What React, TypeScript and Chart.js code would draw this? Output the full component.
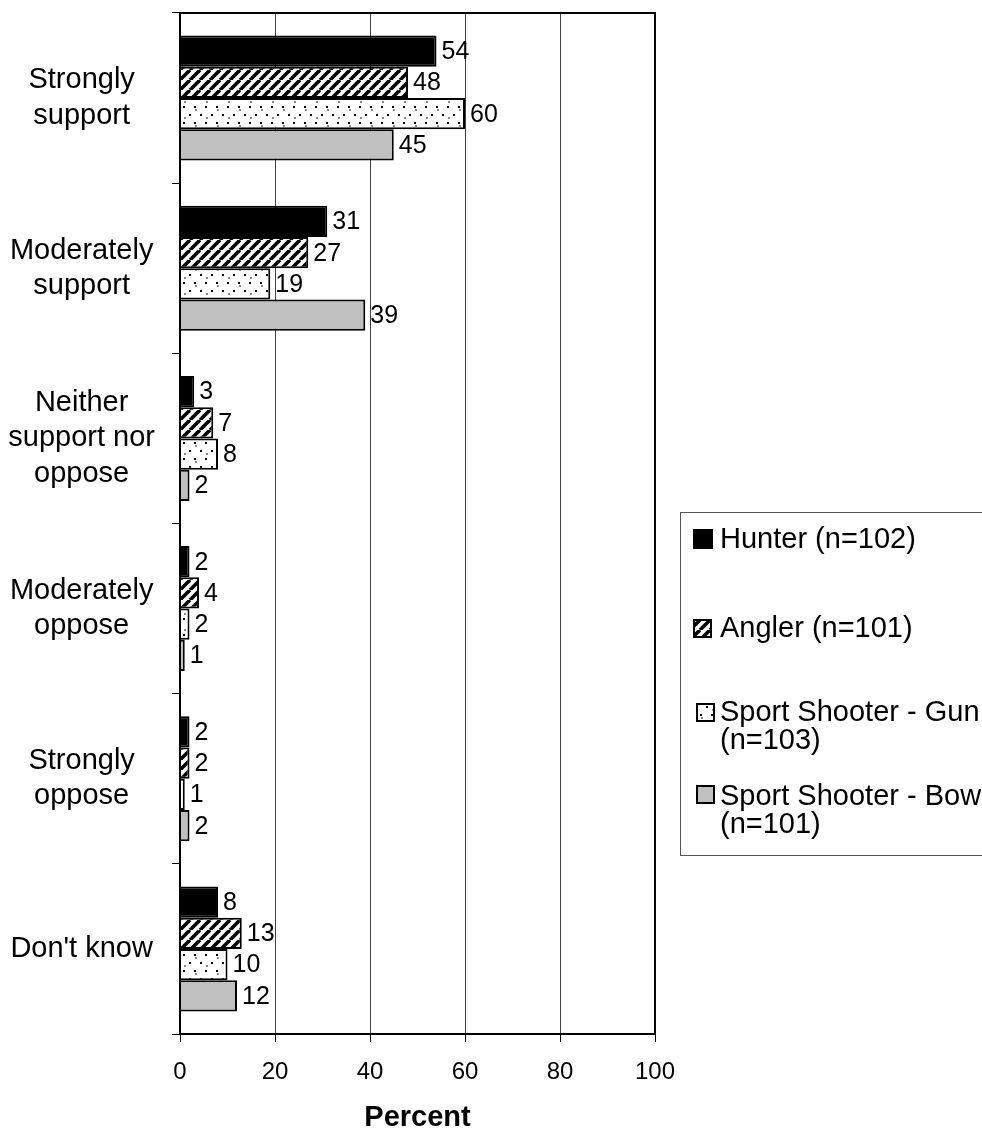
import { useEffect, useRef } from "react";
import { Chart, registerables } from "chart.js";

Chart.register(...registerables);

const categories: string[][] = [
  ["Strongly", "support"],
  ["Moderately", "support"],
  ["Neither", "support nor", "oppose"],
  ["Moderately", "oppose"],
  ["Strongly", "oppose"],
  ["Don't know"],
];

const seriesNames = ["Hunter (n=102)", "Angler (n=101)", "Sport Shooter - Gun (n=103)", "Sport Shooter - Bow (n=101)"];
const legendLines: string[][] = [
  ["Hunter (n=102)"],
  ["Angler (n=101)"],
  ["Sport Shooter - Gun", "(n=103)"],
  ["Sport Shooter - Bow", "(n=101)"],
];

const hunter = [54, 31, 3, 2, 2, 8];
const angler = [48, 27, 7, 4, 2, 13];
const gun = [60, 19, 8, 2, 1, 10];
const bow = [45, 39, 2, 1, 2, 12];

const xMin = 0;
const xMax = 100;
const xStep = 20;
const xTitle = "Percent";

const FONT = "'Liberation Sans', Arial, Helvetica, sans-serif";

function makeHatch(): CanvasPattern | string {
  const c = document.createElement("canvas");
  c.width = 10;
  c.height = 10;
  const g = c.getContext("2d");
  if (!g) return "#000";
  g.fillStyle = "#fff";
  g.fillRect(0, 0, 10, 10);
  g.strokeStyle = "#000";
  g.lineWidth = 3.6;
  for (const k of [-10, 0, 10]) {
    g.beginPath();
    g.moveTo(k, 10);
    g.lineTo(k + 10, 0);
    g.stroke();
  }
  return g.createPattern(c, "repeat") || "#000";
}

function makeDots(): CanvasPattern | string {
  const c = document.createElement("canvas");
  c.width = 22;
  c.height = 16;
  const g = c.getContext("2d");
  if (!g) return "#fff";
  g.fillStyle = "#fff";
  g.fillRect(0, 0, 22, 16);
  g.fillStyle = "#000";
  for (const [x, y] of [[2, 2], [13, 2], [7, 10], [18, 10]]) g.fillRect(x, y, 2, 2);
  g.fillStyle = "#8a8a8a";
  for (const [x, y] of [[8, 5], [19, 13]]) g.fillRect(x, y, 2, 2);
  return g.createPattern(c, "repeat") || "#fff";
}

export default function App() {
  const ref = useRef<HTMLCanvasElement | null>(null);

  useEffect(() => {
    const canvas = ref.current;
    if (!canvas) return;
    const hatch = makeHatch();
    const dots = makeDots();
    const fills: any[] = ["#000000", hatch, dots, "#c0c0c0"];
    const values = [hunter, angler, gun, bow];

    const labelPlugin = {
      id: "valueLabels",
      afterDatasetsDraw(chart: any) {
        const ctx = chart.ctx;
        ctx.save();
        ctx.font = `25px ${FONT}`;
        ctx.fillStyle = "#000";
        ctx.textAlign = "left";
        ctx.textBaseline = "middle";
        chart.data.datasets.forEach((ds: any, i: number) => {
          const meta = chart.getDatasetMeta(i);
          meta.data.forEach((bar: any, j: number) => {
            ctx.fillText(String(ds.data[j]), bar.x + 5, bar.y + 1);
          });
        });
        ctx.restore();
      },
    };

    const framePlugin = {
      id: "frameAndLegend",
      afterDraw(chart: any) {
        const ctx = chart.ctx;
        const a = chart.chartArea;
        ctx.save();
        ctx.strokeStyle = "#000";
        ctx.lineWidth = 2;
        ctx.strokeRect(a.left, a.top, a.right - a.left, a.bottom - a.top);

        // legend box
        ctx.strokeStyle = "#555";
        ctx.lineWidth = 1;
        ctx.strokeRect(680.5, 512.5, 400, 343);

        const markers = [
          { x: 693, y: 529, s: 20 },
          { x: 693, y: 619, s: 19 },
          { x: 696, y: 703, s: 19 },
          { x: 696, y: 785, s: 19 },
        ];
        const baselines = [[548], [637], [721, 749], [805, 833]];
        ctx.font = `29px ${FONT}`;
        ctx.textAlign = "left";
        ctx.textBaseline = "alphabetic";
        markers.forEach((m, i) => {
          ctx.fillStyle = fills[i];
          ctx.fillRect(m.x, m.y, m.s, m.s);
          ctx.strokeStyle = "#000";
          ctx.lineWidth = 2;
          ctx.strokeRect(m.x + 1, m.y + 1, m.s - 2, m.s - 2);
          ctx.fillStyle = "#000";
          legendLines[i].forEach((t, k) => {
            ctx.fillText(t, 720, baselines[i][k]);
          });
        });
        ctx.restore();
      },
    };

    const chart = new Chart(canvas, {
      type: "bar",
      data: {
        labels: categories,
        datasets: seriesNames.map((name, i) => ({
          label: name,
          data: values[i],
          backgroundColor: fills[i],
          borderColor: "#000",
          borderWidth: 2,
          barPercentage: 1,
          categoryPercentage: 0.735,
        })),
      },
      options: {
        indexAxis: "y",
        animation: false,
        responsive: true,
        maintainAspectRatio: false,
        layout: { padding: { top: 13, right: 327, left: 0, bottom: 0 } },
        plugins: {
          legend: { display: false },
          tooltip: { enabled: false },
        },
        scales: {
          x: {
            min: xMin,
            max: xMax,
            afterFit: (s: any) => {
              s.height = 98;
              s.paddingLeft = 0;
              s.paddingRight = 0;
            },
            ticks: {
              stepSize: xStep,
              color: "#000",
              font: { family: FONT, size: 24 },
              padding: 16,
            },
            grid: {
              color: "#404040",
              lineWidth: 1,
              tickColor: "#000",
              tickLength: 8,
              drawTicks: true,
            },
            border: { display: true, color: "#000", width: 2 },
            title: {
              display: true,
              text: xTitle,
              color: "#000",
              font: { family: FONT, size: 29, weight: "bold", lineHeight: 1.0 },
              padding: { top: 0, bottom: 0 },
            },
          },
          y: {
            afterFit: (s: any) => {
              s.width = 180;
              s.paddingTop = 0;
              s.paddingBottom = 0;
            },
            ticks: {
              color: "#000",
              font: { family: FONT, size: 29, lineHeight: 1.22 },
              crossAlign: "center",
              padding: 17,
            },
            grid: {
              offset: true,
              drawOnChartArea: false,
              drawTicks: true,
              tickLength: 8,
              tickColor: "#000",
              color: "#000",
            },
            border: { display: true, color: "#000", width: 2 },
          },
        },
      },
      plugins: [labelPlugin, framePlugin],
    } as any);

    return () => chart.destroy();
  }, []);

  return (
    <div style={{ position: "absolute", left: 0, top: 0, width: 982, height: 1132, background: "#fff" }}>
      <canvas ref={ref} />
    </div>
  );
}
